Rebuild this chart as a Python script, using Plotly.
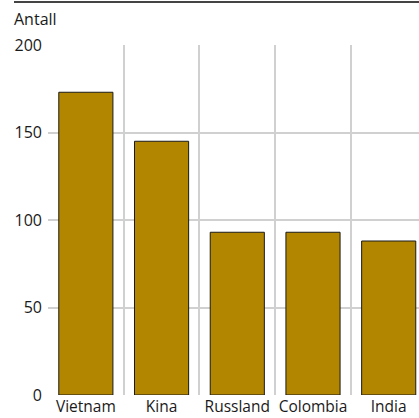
import plotly.graph_objects as go

categories = ["Vietnam", "Kina", "Russland", "Colombia", "India"]
values = [173, 145, 93, 93, 88]
y_ticks = [0, 50, 100, 150, 200]

W, H = 419, 418
ml, mr, mt, mb = 48, 0, 45, 23
pw = W - ml - mr
ph = H - mt - mb

fig = go.Figure(go.Bar(
    x=categories, y=values,
    marker=dict(color="#b38600", line=dict(color="#1a1a1a", width=1)),
    width=0.715,
))

font = "Open Sans, DejaVu Sans, sans-serif"
fig.update_layout(
    width=W, height=H,
    margin=dict(l=ml, r=mr, t=mt, b=mb),
    paper_bgcolor="white", plot_bgcolor="white",
    showlegend=False,
    font=dict(family=font, size=16, color="#1a1a1a"),
    xaxis=dict(
        type="category", range=[-0.5, 4.4],
        tickson="boundaries", showgrid=True, gridcolor="#d0d0d0", gridwidth=2,
        ticks="", showline=False, zeroline=False, tickangle=0, automargin=False,
        ticklabelstandoff=0,
        tickfont=dict(size=15.5, color="#1a1a1a"),
    ),
    yaxis=dict(
        range=[0, 200], tickvals=y_ticks, showgrid=True, gridcolor="#d0d0d0", gridwidth=2,
        ticks="", showline=False, zeroline=False, ticklabelstandoff=5, automargin=False,
        tickfont=dict(size=16, color="#1a1a1a"),
    ),
    shapes=[dict(
        type="line", xref="paper", yref="paper",
        x0=(14 - ml) / pw, x1=1.0, y0=1 + (mt - 2) / ph, y1=1 + (mt - 2) / ph,
        line=dict(color="#444", width=2),
    )],
    annotations=[dict(
        text="Antall", xref="paper", yref="paper",
        x=(12 - ml) / pw, y=1 + (mt - 19) / ph, xanchor="left", yanchor="middle",
        showarrow=False, font=dict(size=16, color="#1a1a1a"),
    )],
)

fig.write_html(
    "out.html",
    config={"displayModeBar": False},
    post_script="document.body.style.margin='0';document.body.style.overflow='hidden';",
)
